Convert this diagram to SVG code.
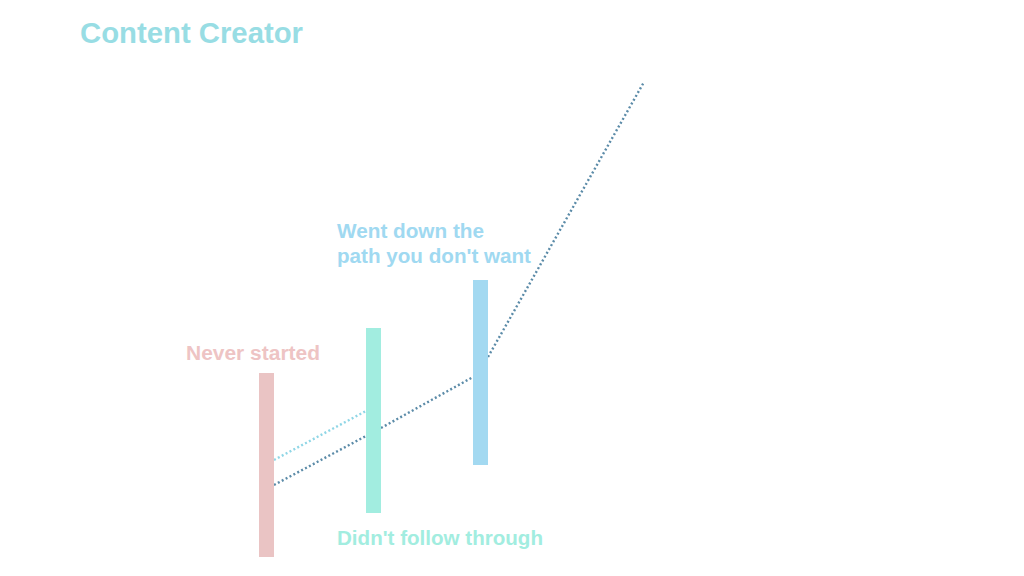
<svg xmlns="http://www.w3.org/2000/svg" width="1024" height="576" viewBox="0 0 1024 576">
<style>
.t{font-family:"Liberation Sans",Arial,sans-serif;font-weight:bold}
.dot{fill:none;stroke-width:2.4;stroke-dasharray:2 2.4}
</style>
<rect width="1024" height="576" fill="#ffffff"/>
<text class="t" x="80" y="43" font-size="29" fill="#98dde4" textLength="223" lengthAdjust="spacingAndGlyphs">Content Creator</text>
<g id="connectors">
<line class="dot" x1="274" y1="460" x2="366" y2="411" stroke="#8fd6e6"/>
<polyline class="dot" points="274,485 366,436" stroke="#5b8ba8"/>
<polyline class="dot" points="381,428 473,377" stroke="#5b8ba8"/>
<polyline class="dot" points="488,357 644,82" stroke="#5b8ba8"/>
</g>
<g id="never-started">
<rect x="259" y="373" width="15" height="184" fill="#eac4c4"/>
<text class="t" x="186" y="360" font-size="20" fill="#eec4c4" textLength="134" lengthAdjust="spacingAndGlyphs">Never started</text>
</g>
<g id="didnt-follow-through">
<rect x="366" y="328" width="15" height="185" fill="#a2ede0"/>
<text class="t" x="337" y="545" font-size="20" fill="#a2ede0" textLength="206" lengthAdjust="spacingAndGlyphs">Didn't follow through</text>
</g>
<g id="went-down-path">
<rect x="473" y="280" width="15" height="185" fill="#a3d9f1"/>
<text class="t" x="337" y="238" font-size="20" fill="#a0d9f1" textLength="147" lengthAdjust="spacingAndGlyphs">Went down the</text>
<text class="t" x="337" y="263" font-size="20" fill="#a0d9f1" textLength="194" lengthAdjust="spacingAndGlyphs">path you don't want</text>
</g>
</svg>
